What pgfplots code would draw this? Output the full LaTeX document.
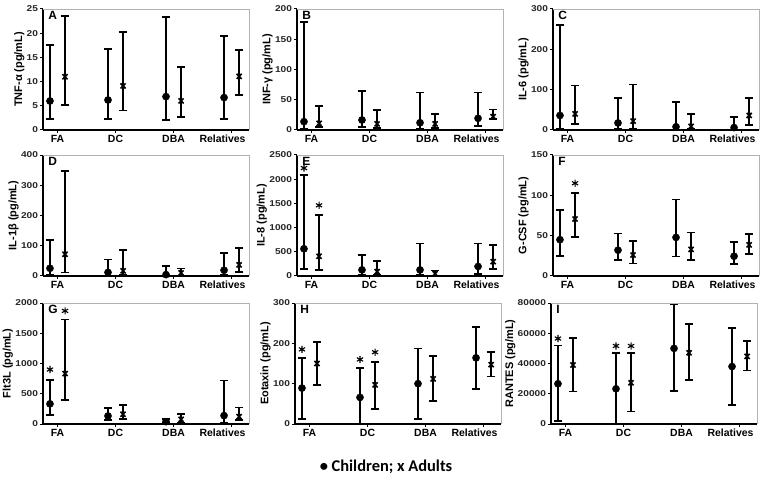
\documentclass[border=0pt]{standalone}
\usepackage{fontspec}
\setmainfont{Liberation Sans}
\newfontfamily\carlito{Carlito}
\usepackage{pgfplots}
\usepackage{pgfplotstable}
\pgfplotsset{compat=1.18}

% pos: 1=FA 2=DC 3=DBA 4=Relatives; c = children, a = adults (median, low, high)
\pgfplotstableread{
pos cv clo chi av alo ahi
1 6.0 2.3 17.6 11.0 5.2 23.6
2 6.2 2.3 16.7 9.1 4.0 20.3
3 6.9 2.1 23.4 6.0 2.7 13.0
4 6.7 2.3 19.4 11.1 7.3 16.6
}\tA
\pgfplotstableread{
pos cv clo chi av alo ahi
1 13.8 1.5 178.5 11 5.5 40
2 16.5 5.5 65 10 3 33
3 12 2 62 10 3 26.5
4 19.3 7 62 22 17.6 34
}\tB
\pgfplotstableread{
pos cv clo chi av alo ahi
1 36 3 260 40 15 110
2 17.5 2 79 22 3 113
3 8 1 69 9 2 40
4 6 1 32 36 13 79
}\tC
\pgfplotstableread{
pos cv clo chi av alo ahi
1 25.5 3 120 72 12 347
2 12 1 55 17 3 86
3 4.5 1 34 10 2 25
4 19 3 75 37 14 92
}\tD
\pgfplotstableread{
pos cv clo chi av alo ahi
1 562 147 2086 407 120 1257
2 126 20 428 91 14 316
3 126 20 674 49 7 112
4 197 42 674 295 147 639
}\tE
\pgfplotstableread{
pos cv clo chi av alo ahi
1 45 24.5 82 70.6 48.6 102.6
2 32 20 52.8 26 15.4 43
3 47.8 24 95 33 20 54
4 24.5 14.5 42 38.6 27 52
}\tF
\pgfplotstableread{
pos cv clo chi av alo ahi
1 333 150 733 833 400 1728
2 133 67 261 161 78 317
3 39 11 83 78 22 167
4 139 22 717 122 67 272
}\tG
\pgfplotstableread{
pos cv clo chi av alo ahi
1 89 13 164 150 96 204
2 66 0 139 97 37 153
3 100 13 187 112 57 168
4 164 87 240 147 118 178
}\tH
\pgfplotstableread{
pos cv clo chi av alo ahi
1 26600 1770 51860 39000 21500 56730
2 23270 0 46980 27260 8200 46980
3 50000 22000 79300 47100 29300 66000
4 38000 12700 63300 44700 35300 54700
}\tI

% significance stars
\pgfplotstableread{
x y
0.87 2230
1.13 1460
}\sE
\pgfplotstableread{
x y
1.13 115
}\sF
\pgfplotstableread{
x y
0.87 900
1.13 1870
}\sG
\pgfplotstableread{
x y
0.87 185
1.87 160
2.13 178
}\sH
\pgfplotstableread{
x y
0.87 56500
1.87 51600
2.13 51600
}\sI

\pgfplotsset{
  cyto/.style={
    scale only axis, width=206bp, height=121bp, anchor=south west,
    xmin=0.75, xmax=4.3, ymin=0,
    xtick={1,2,3,4},
    xticklabels={FA,DC,DBA,Relatives\hspace*{18bp}},
    axis x line*=bottom, axis y line*=left,
    axis line style={-, line width=1.3bp, black},
    tick align=outside, major tick length=3bp,
    tick style={line width=1bp, black},
    clip=false,
    scaled y ticks=false,
    /pgf/number format/1000 sep={},
    /pgf/number format/assume math mode=true,
    yticklabel style={font=\fontsize{8.5}{9}\selectfont\bfseries, xscale=1.2,
      text=black!85, inner sep=1.5bp},
    xticklabel style={font=\fontsize{10.5}{11}\selectfont\bfseries, inner sep=2bp},
    ylabel style={font=\fontsize{11}{12}\selectfont\bfseries, yshift=-3bp},
    after end axis/.code={
      \draw[gray!60, line width=0.8bp] (rel axis cs:0,1) -- (rel axis cs:1,1) -- (rel axis cs:1,0);
    },
  },
  child/.style={black, only marks, mark=*, mark size=3.6bp,
    error bars/.cd, y dir=both, y explicit,
    error bar style={line width=2.3bp, black},
    error mark options={rotate=90, mark size=4.3bp, line width=1.7bp, black}},
  adult/.style={black, only marks, mark=x, mark size=3.6bp,
    mark options={line width=1.6bp},
    error bars/.cd, y dir=both, y explicit,
    error bar style={line width=2.3bp, black},
    error mark options={rotate=90, mark size=4.3bp, line width=1.7bp, black}},
  star/.style={black, only marks, mark=asterisk, mark size=3.6bp, mark options={line width=1.1bp}},
}

\newcommand\pairs[1]{%
  \addplot[child] table[x expr=\thisrow{pos}-0.13, y=cv,
    y error plus expr=\thisrow{chi}-\thisrow{cv},
    y error minus expr=\thisrow{cv}-\thisrow{clo}] {#1};
  \addplot[adult] table[x expr=\thisrow{pos}+0.13, y=av,
    y error plus expr=\thisrow{ahi}-\thisrow{av},
    y error minus expr=\thisrow{av}-\thisrow{alo}] {#1};
}
\newcommand\letter[1]{\node[anchor=north west, inner sep=1bp,
  font=\fontsize{12}{14}\selectfont\bfseries] at (rel axis cs:0.02,0.99) {#1};}

\begin{document}
\begin{tikzpicture}
\path[use as bounding box] (0bp,0bp) rectangle (764bp,480bp);

% row 1
\begin{axis}[cyto, at={(43bp,350bp)}, ymax=25, ytick={0,5,...,25}, ylabel={TNF-α (pg/mL)}]
\pairs{\tA}
\letter{A}
\end{axis}
\begin{axis}[cyto, at={(297bp,350bp)}, ymax=200, ytick={0,50,...,200}, ylabel={INF-γ (pg/mL)}]
\pairs{\tB}
\letter{B}
\end{axis}
\begin{axis}[cyto, at={(553bp,350bp)}, ymax=300, ytick={0,100,...,300}, ylabel={IL-6 (pg/mL)}]
\pairs{\tC}
\letter{C}
\end{axis}

% row 2
\begin{axis}[cyto, at={(43bp,204bp)}, ymax=400, ytick={0,100,...,400}, ylabel={IL-1β (pg/mL)}]
\pairs{\tD}
\letter{D}
\end{axis}
\begin{axis}[cyto, at={(297bp,204bp)}, ymax=2500, ytick={0,500,...,2500}, ylabel={IL-8 (pg/mL)}]
\pairs{\tE}
\addplot[star] table {\sE};
\letter{E}
\end{axis}
\begin{axis}[cyto, at={(553bp,204bp)}, ymax=150, ytick={0,50,...,150}, ylabel={G-CSF (pg/mL)}]
\pairs{\tF}
\addplot[star] table {\sF};
\letter{F}
\end{axis}

% row 3
\begin{axis}[cyto, at={(43bp,56bp)}, ymax=2000, ytick={0,500,...,2000}, ylabel={Flt3L (pg/mL)}]
\pairs{\tG}
\addplot[star] table {\sG};
\letter{G}
\end{axis}
\begin{axis}[cyto, at={(295bp,56bp)}, ymax=300, ytick={0,100,...,300}, ylabel={Eotaxin (pg/mL)}]
\pairs{\tH}
\addplot[star] table {\sH};
\letter{H}
\end{axis}
\begin{axis}[cyto, at={(551bp,56bp)}, ymax=80000, ytick={0,20000,...,80000}, ylabel={RANTES (pg/mL)}]
\pairs{\tI}
\addplot[star] table {\sI};
\letter{I}
\end{axis}

\node[font=\fontsize{16.5}{18}\carlito\bfseries] at (386bp,13bp) {• Children; x Adults};
\end{tikzpicture}
\end{document}
